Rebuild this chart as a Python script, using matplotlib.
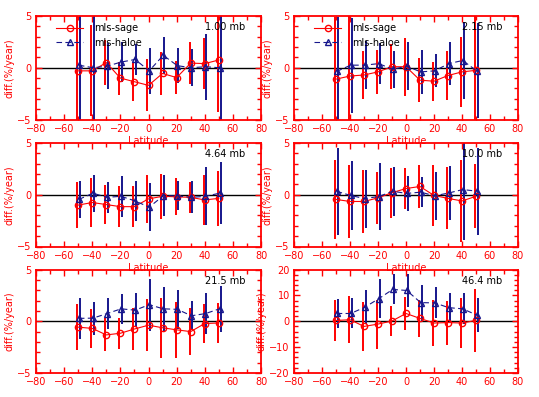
import matplotlib
matplotlib.use('Agg')
import matplotlib.pyplot as plt
import numpy as np
from matplotlib.ticker import MultipleLocator

lats = [-50, -40, -30, -20, -10, 0, 10, 20, 30, 40, 50]
levels = ['1.00 mb', '2.15 mb', '4.64 mb', '10.0 mb', '21.5 mb', '46.4 mb']

# mls-sage (red)
sage_1 = [-0.3, -0.3, 0.5, -1.0, -1.35, -1.7, -0.55, -0.95, 0.45, 0.4, 0.75]
sage_err_1 = [6.0, 4.4, 2.2, 1.6, 1.9, 2.5, 2.1, 1.6, 2.0, 2.5, 5.0]
sage_2 = [-1.1, -0.8, -0.7, -0.4, 0.1, 0.1, -1.2, -1.3, -0.75, -0.4, -0.25]
sage_err_2 = [6.0, 6.0, 2.3, 2.1, 2.2, 2.8, 2.1, 1.9, 2.4, 3.4, 6.0]
sage_3 = [-1.0, -0.75, -0.95, -1.15, -1.15, -0.4, -0.15, -0.2, -0.25, -0.5, -0.35]
sage_err_3 = [2.2, 2.4, 1.9, 1.95, 2.0, 2.3, 2.15, 1.8, 1.5, 2.4, 2.65]
sage_4 = [-0.45, -0.65, -0.65, -0.3, 0.2, 0.6, 0.8, -0.07, -0.35, -0.6, -0.15]
sage_err_4 = [3.8, 3.55, 3.0, 2.5, 2.4, 2.0, 2.1, 2.95, 3.0, 3.95, 3.1]
sage_5 = [-0.57, -0.69, -1.32, -1.16, -0.75, -0.38, -0.63, -0.83, -1.0, -0.22, -0.17]
sage_err_5 = [2.2, 1.9, 1.6, 1.5, 2.0, 2.5, 2.9, 2.7, 2.3, 1.9, 1.9]
sage_6 = [0.3, 0.6, -2.0, -1.1, 0.1, 3.0, 1.1, -0.7, -0.5, -0.7, 0.35]
sage_err_6 = [7.9, 9.1, 9.4, 9.5, 5.8, 6.5, 7.1, 8.9, 8.5, 9.5, 12.3]

# mls-haloe (blue)
haloe_1 = [0.25, 0.0, 0.15, 0.55, 0.8, -0.3, 1.2, 0.2, 0.0, 0.1, 0.0]
haloe_err_1 = [6.0, 5.2, 2.2, 1.9, 1.5, 2.2, 1.8, 1.7, 1.8, 3.2, 6.0]
haloe_2 = [-0.35, 0.25, 0.25, 0.4, -0.15, 0.15, -0.4, -0.3, 0.4, 0.7, -0.3]
haloe_err_2 = [5.3, 4.6, 2.3, 2.0, 1.8, 2.3, 2.1, 1.6, 2.1, 3.7, 4.6]
haloe_3 = [-0.45, 0.15, -0.25, -0.15, -0.6, -1.2, -0.1, -0.1, -0.25, -0.15, 0.15]
haloe_err_3 = [1.8, 1.8, 1.5, 2.0, 1.9, 2.3, 2.0, 1.4, 1.55, 2.8, 3.0]
haloe_4 = [0.33, -0.07, -0.37, -0.17, 0.33, 0.13, 0.25, -0.1, 0.17, 0.5, 0.35]
haloe_err_4 = [4.2, 3.3, 2.8, 3.2, 2.35, 1.7, 1.45, 2.3, 2.65, 4.85, 4.2]
haloe_5 = [0.28, 0.3, 0.74, 1.2, 1.07, 1.6, 1.2, 1.15, 0.53, 0.74, 1.2]
haloe_err_5 = [1.95, 1.6, 1.5, 1.45, 1.65, 2.5, 2.1, 1.9, 1.4, 2.0, 2.2]
haloe_6 = [3.0, 3.0, 5.4, 8.7, 12.3, 11.9, 7.2, 7.1, 5.25, 4.8, 2.4]
haloe_err_6 = [5.6, 5.8, 6.5, 7.6, 5.8, 6.4, 7.0, 6.0, 5.5, 6.0, 6.5]

sage = [sage_1, sage_2, sage_3, sage_4, sage_5, sage_6]
sage_err = [sage_err_1, sage_err_2, sage_err_3, sage_err_4, sage_err_5, sage_err_6]
haloe = [haloe_1, haloe_2, haloe_3, haloe_4, haloe_5, haloe_6]
haloe_err = [haloe_err_1, haloe_err_2, haloe_err_3, haloe_err_4, haloe_err_5, haloe_err_6]
ylims = [5, 5, 5, 5, 5, 20]

red = '#ff0000'
blue = '#16168c'
fs = 7

fig = plt.figure(figsize=(5.39, 3.97), dpi=100)
col_x = [36 / 539, 294 / 539]
col_w = [225 / 539, 224 / 539]
row_y = [(397 - 119.5) / 397, (397 - 246.5) / 397, (397 - 373) / 397]
h = 103.5 / 397

x = np.array(lats)
for i in range(6):
    r, c = i // 2, i % 2
    ax = fig.add_axes([col_x[c], row_y[r], col_w[c], h])
    ax.patch.set_alpha(0)
    lim = ylims[i]
    ax.axhline(0, color='black', lw=1.0, zorder=1)

    ax.errorbar(x - 0.8, sage[i], yerr=sage_err[i], fmt='none', ecolor=red,
                elinewidth=1.4, capsize=0, zorder=2)
    ax.errorbar(x + 1.2, haloe[i], yerr=haloe_err[i], fmt='none', ecolor=blue,
                elinewidth=1.4, capsize=0, zorder=2)
    ax.plot(x, sage[i], color=red, lw=0.8, marker='o', ms=4.5, mfc='none',
            mec=red, mew=1.0, label='mls-sage', zorder=3)
    ax.plot(x + 0.5, haloe[i], color=blue, lw=0.8, ls=(0, (5, 3)), marker='^',
            ms=5, mfc='none', mec=blue, mew=1.0, label='mls-haloe', zorder=3)

    ax.set_xlim(-80, 80)
    ax.set_ylim(-lim, lim)
    ax.xaxis.set_major_locator(MultipleLocator(20))
    ax.xaxis.set_minor_locator(MultipleLocator(10))
    if lim == 5:
        ax.yaxis.set_major_locator(MultipleLocator(5))
        ax.yaxis.set_minor_locator(MultipleLocator(1))
    else:
        ax.yaxis.set_major_locator(MultipleLocator(10))
        ax.yaxis.set_minor_locator(MultipleLocator(2))
    ax.tick_params(which='both', direction='in', top=True, right=True,
                   colors=red, labelsize=fs, width=1.0)
    ax.tick_params(which='major', length=4, pad=3)
    ax.tick_params(which='minor', length=3)
    for s in ax.spines.values():
        s.set_color(red)
        s.set_linewidth(1.3)

    ax.set_ylabel('diff.(%/year)', color=red, fontsize=fs, labelpad=2)
    if r < 2:
        ax.set_xlabel('Latitude', color=red, fontsize=fs, labelpad=2)
    ax.text(40, lim * 0.78, levels[i], fontsize=fs, color='black', va='center')

    if r == 0:
        leg = ax.legend(loc='upper left', bbox_to_anchor=(0.09, 0.93), frameon=False,
                        fontsize=fs, handlelength=2.8, handletextpad=1.1,
                        labelspacing=0.45, borderaxespad=0, borderpad=0)
        for t in leg.get_texts():
            t.set_color('black')

fig.savefig('out.png', dpi=100)
